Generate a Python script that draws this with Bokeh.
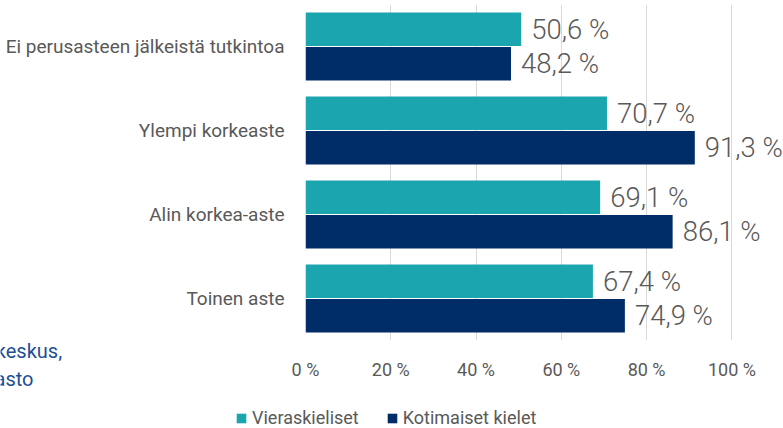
from bokeh.plotting import figure
from bokeh.models import (ColumnDataSource, FactorRange, Range1d, FixedTicker, Legend, LegendItem,
                          Label, GridBox)
from bokeh.transform import dodge
from bokeh.core.properties import value
from bokeh.embed import file_html
from bokeh.resources import INLINE

categories = ["Ei perusasteen jälkeistä tutkintoa", "Ylempi korkeaste", "Alin korkea-aste", "Toinen aste"]
vieraskieliset = [50.6, 70.7, 69.1, 67.4]
kotimaiset = [48.2, 91.3, 86.1, 74.9]
series_names = ["Vieraskieliset", "Kotimaiset kielet"]
tick_values = [0, 20, 40, 60, 80, 100]
tick_labels = ["0 %", "20 %", "40 %", "60 %", "80 %", "100 %"]
source_lines = ["Lähde: Tilastokeskus,", "työssäkäyntitilasto"]

def fmt(v):
    return f"{v:.1f}".replace(".", ",") + " %"

src = ColumnDataSource(dict(
    cat=categories,
    v1=vieraskieliset,
    v2=kotimaiset,
    l1=[fmt(v) for v in vieraskieliset],
    l2=[fmt(v) for v in kotimaiset],
))

TEAL = "#1BA6AF"
NAVY = "#002D67"
GRAY = "#595959"
BLUE = "#1F4E96"
FONT = "Roboto"
W, H = 783, 428

# ---- main chart ----
yr = FactorRange(*list(reversed(categories)))
p = figure(width=W, height=H, y_range=yr, x_range=Range1d(0, 112.1),
           output_backend="svg", toolbar_location=None)
p.min_border_left = 305
p.min_border_right = 0
p.min_border_top = 4
p.min_border_bottom = 88
p.outline_line_color = None

r1 = p.hbar(y=dodge("cat", 0.205, range=yr), right="v1", height=0.4, source=src,
            fill_color=TEAL, line_color=None)
r2 = p.hbar(y=dodge("cat", -0.205, range=yr), right="v2", height=0.4, source=src,
            fill_color=NAVY, line_color=None)

p.text(x="v1", y=dodge("cat", 0.205, range=yr), text="l1", source=src, x_offset=10,
       text_baseline="middle", text_align="left", text_font_size="27.5px",
       text_color=GRAY, text_font=value("Roboto Light, Roboto"))
p.text(x="v2", y=dodge("cat", -0.205, range=yr), text="l2", source=src, x_offset=10,
       text_baseline="middle", text_align="left", text_font_size="27.5px",
       text_color=GRAY, text_font=value("Roboto Light, Roboto"))

p.ygrid.grid_line_color = None
p.xgrid.grid_line_color = "#D9D9D9"
p.xgrid.grid_line_width = 1
p.xaxis.ticker = FixedTicker(ticks=tick_values)
p.xaxis.major_label_overrides = {t: l for t, l in zip(tick_values, tick_labels)}
for ax in (p.xaxis, p.yaxis):
    ax.axis_line_color = None
    ax.major_tick_line_color = None
    ax.minor_tick_line_color = None
    ax.major_label_text_color = GRAY
    ax.major_label_text_font = FONT
p.xaxis.major_label_text_font_size = "18px"
p.xaxis.major_label_standoff = 12
p.yaxis.major_label_text_font_size = "19px"
p.yaxis.major_label_standoff = 15

# ---- transparent overlay for legend and source note ----
ov = figure(width=W, height=H, x_range=Range1d(0, W), y_range=Range1d(H, 0),
            x_axis_type=None, y_axis_type=None, output_backend="svg", toolbar_location=None)
ov.min_border_left = ov.min_border_right = ov.min_border_top = ov.min_border_bottom = 0
ov.frame_align = False
ov.outline_line_color = None
ov.background_fill_alpha = 0
ov.border_fill_alpha = 0
ov.grid.visible = False

# hidden renderers that only provide the legend swatches
lr1 = ov.hbar(y="v1", right="v1", height=1, source=src, fill_color=TEAL, line_color=None, visible=False)
lr2 = ov.hbar(y="v2", right="v2", height=1, source=src, fill_color=NAVY, line_color=None, visible=False)

legend = Legend(items=[LegendItem(label=series_names[0], renderers=[lr1]),
                       LegendItem(label=series_names[1], renderers=[lr2])],
                orientation="horizontal", location=(235, 0),
                glyph_width=12, glyph_height=12, label_standoff=5, spacing=27,
                padding=0, margin=0, border_line_color=None, background_fill_alpha=0,
                inactive_fill_alpha=0, click_policy="none",
                label_text_font=FONT, label_text_font_size="18px", label_text_color=GRAY)
ov.add_layout(legend, "center")

ov.add_layout(Label(x=62, y=350, text=source_lines[0], text_align="right", text_baseline="middle",
                    text_font=FONT, text_font_size="20px", text_color=BLUE))
ov.add_layout(Label(x=33, y=378, text=source_lines[1], text_align="right", text_baseline="middle",
                    text_font=FONT, text_font_size="20px", text_color=BLUE))

layout = GridBox(children=[(p, 0, 0), (ov, 0, 0)])
open("out.html", "w").write(file_html(layout, INLINE))
